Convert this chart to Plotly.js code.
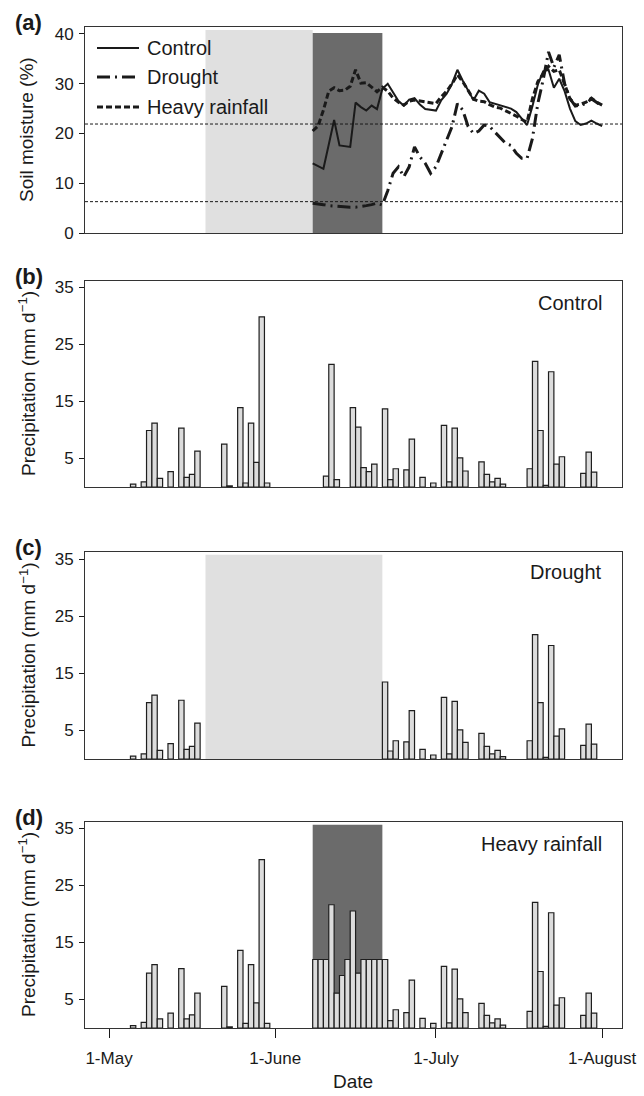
<!DOCTYPE html>
<html>
<head>
<meta charset="utf-8">
<script src="https://cdn.plot.ly/plotly-3.0.1.min.js"></script>
<style>html,body{margin:0;padding:0;background:#fff;}#chart{width:644px;height:1096px;}</style>
</head>
<body>
<div id="chart"></div>
<script>
// ---------------- DATA ----------------
// Soil moisture (%) daily, 8 June - 1 August
const smDates = ['2014-06-08','2014-06-09','2014-06-10','2014-06-11','2014-06-12','2014-06-13','2014-06-14','2014-06-15','2014-06-16','2014-06-17','2014-06-18','2014-06-19','2014-06-20','2014-06-21','2014-06-22','2014-06-23','2014-06-24','2014-06-25','2014-06-26','2014-06-27','2014-06-28','2014-06-29','2014-06-30',
 '2014-07-01','2014-07-02','2014-07-03','2014-07-04','2014-07-05','2014-07-06','2014-07-07','2014-07-08','2014-07-09','2014-07-10','2014-07-11','2014-07-12','2014-07-13','2014-07-14','2014-07-15','2014-07-16','2014-07-17','2014-07-18','2014-07-19','2014-07-20','2014-07-21','2014-07-22','2014-07-23','2014-07-24','2014-07-25','2014-07-26','2014-07-27','2014-07-28','2014-07-29','2014-07-30','2014-07-31','2014-08-01'];
const smControl = [14.0,13.5,12.9,17.8,22.7,17.6,17.4,17.3,26.2,25.3,24.6,25.6,24.9,29.0,30.0,28.1,26.5,25.6,26.8,27.1,25.8,24.9,24.8,24.6,26.7,28.0,30.0,32.8,30.6,28.6,26.7,28.6,28.0,26.3,26.0,25.6,25.3,25.0,24.3,23.0,21.7,25.5,29.8,32.5,32.8,29.2,31.0,28.5,25.0,22.5,21.7,22.0,22.6,22.0,21.5];
const smDrought = [6.0,5.9,5.7,5.5,5.4,5.3,5.2,5.2,5.2,5.3,5.5,5.7,6.0,5.6,8.5,12.0,13.3,11.3,13.3,17.3,15.3,14.0,12.0,13.3,16.0,18.4,21.4,26.0,24.7,21.4,20.0,20.5,21.7,21.4,20.3,19.3,18.0,17.6,16.0,15.0,15.0,19.0,26.0,30.8,36.4,33.3,35.8,30.0,27.0,25.5,25.7,26.0,27.0,26.2,25.5];
const smHeavy = [20.5,21.5,24.7,28.5,29.2,28.6,28.7,29.5,32.8,30.1,30.2,29.3,28.4,29.3,28.5,27.1,26.3,25.7,26.5,26.7,26.5,26.4,26.2,26.0,27.4,28.5,30.0,31.8,30.4,28.6,26.9,26.5,26.4,25.8,25.3,25.1,24.6,24.0,23.5,22.8,22.3,27.0,30.4,32.0,33.5,32.5,32.8,29.9,27.0,25.7,25.9,26.3,27.1,26.3,25.7];
const smLevels = [21.9, 6.3];           // horizontal reference lines (%)
const seriesNames = ['Control','Drought','Heavy rainfall'];

// Daily precipitation (mm d-1)
const pcControlDates = ['2014-05-05','2014-05-07','2014-05-08','2014-05-09','2014-05-10','2014-05-12','2014-05-14','2014-05-15','2014-05-16','2014-05-17','2014-05-22','2014-05-23','2014-05-25','2014-05-26','2014-05-27','2014-05-28','2014-05-29','2014-05-30',
 '2014-06-10','2014-06-11','2014-06-12','2014-06-15','2014-06-16','2014-06-17','2014-06-18','2014-06-19','2014-06-21','2014-06-22','2014-06-23','2014-06-25','2014-06-26','2014-06-28','2014-06-30',
 '2014-07-02','2014-07-03','2014-07-04','2014-07-05','2014-07-06','2014-07-09','2014-07-10','2014-07-11','2014-07-12','2014-07-13','2014-07-18','2014-07-19','2014-07-20','2014-07-21','2014-07-22','2014-07-23','2014-07-24','2014-07-28','2014-07-29','2014-07-30'];
const pcControl = [0.5,0.9,9.9,11.2,1.5,2.7,10.3,1.7,2.2,6.3,7.5,0.2,13.9,0.7,11.2,4.3,29.8,0.7,
 1.9,21.5,1.3,13.9,10.5,3.4,2.7,4.0,13.7,1.3,3.2,3.0,8.4,1.7,0.7,
 10.8,0.9,10.3,5.1,2.8,4.4,2.2,0.9,1.5,0.5,3.2,22.0,9.9,0.3,20.2,4.0,5.3,2.4,6.1,2.6];

const pcDroughtDates = ['2014-05-05','2014-05-07','2014-05-08','2014-05-09','2014-05-10','2014-05-12','2014-05-14','2014-05-15','2014-05-16','2014-05-17',
 '2014-06-21','2014-06-22','2014-06-23','2014-06-25','2014-06-26','2014-06-28','2014-06-30',
 '2014-07-02','2014-07-03','2014-07-04','2014-07-05','2014-07-06','2014-07-09','2014-07-10','2014-07-11','2014-07-12','2014-07-13','2014-07-18','2014-07-19','2014-07-20','2014-07-21','2014-07-22','2014-07-23','2014-07-24','2014-07-28','2014-07-29','2014-07-30'];
const pcDrought = [0.5,0.9,9.9,11.2,1.5,2.7,10.3,1.7,2.2,6.3,
 13.5,1.4,3.2,3.0,8.5,1.7,0.7,
 10.8,0.9,10.1,5.1,2.9,4.5,2.2,0.9,1.5,0.4,3.2,21.8,9.9,0.3,19.9,4.0,5.3,2.4,6.1,2.6];

const pcHeavyDates = ['2014-05-05','2014-05-07','2014-05-08','2014-05-09','2014-05-10','2014-05-12','2014-05-14','2014-05-15','2014-05-16','2014-05-17','2014-05-22','2014-05-23','2014-05-25','2014-05-26','2014-05-27','2014-05-28','2014-05-29','2014-05-30',
 '2014-06-08','2014-06-09','2014-06-10','2014-06-11','2014-06-12','2014-06-13','2014-06-14','2014-06-15','2014-06-16','2014-06-17','2014-06-18','2014-06-19','2014-06-20','2014-06-21',
 '2014-06-22','2014-06-23','2014-06-25','2014-06-26','2014-06-28','2014-06-30',
 '2014-07-02','2014-07-03','2014-07-04','2014-07-05','2014-07-06','2014-07-09','2014-07-10','2014-07-11','2014-07-12','2014-07-13','2014-07-18','2014-07-19','2014-07-20','2014-07-21','2014-07-22','2014-07-23','2014-07-24','2014-07-28','2014-07-29','2014-07-30'];
const pcHeavy = [0.4,1.0,9.6,11.1,1.6,2.6,10.4,1.6,2.3,6.1,7.3,0.2,13.6,0.8,11.1,4.4,29.5,0.8,
 12.0,12.0,12.0,21.6,6.1,9.2,12.0,20.5,9.6,12.0,12.0,12.0,12.0,12.0,
 1.3,3.2,2.7,8.4,1.7,0.8,
 10.8,0.9,10.3,5.1,2.7,4.3,2.2,0.9,1.6,0.5,2.9,22.0,9.9,0.3,20.2,4.0,5.3,2.2,6.1,2.6];

// Treatment periods
const droughtPeriod = ['2014-05-19','2014-06-21'];
const heavyPeriod = ['2014-06-08','2014-06-21'];

// Axis ticks
const dateTicks = ['2014-05-01','2014-06-01','2014-07-01','2014-08-01'];
const dateTickLabels = ['1-May','1-June','1-July','1-August'];
const smTicks = [0,10,20,30,40];
const pcTicks = [5,15,25,35];
const panelLetters = ['(a)','(b)','(c)','(d)'];
const panelNames = ['Control','Drought','Heavy rainfall'];

// ---------------- LAYOUT ----------------
const W = 644, H = 1096, ML = 85, MR = 22, MT = 27, MB = 68;
const PH = H - MT - MB, PW = W - ML - MR;
const py = px => 1 - (px - MT) / PH;      // pixel y -> paper y
const pxx = px => (px - ML) / PW;          // pixel x -> paper x
const dom = (top, bot) => [py(bot), py(top)];
const panels = [[27,233],[281,487],[552,759],[822,1028]];
const xRange = ['2014-04-26 12:30','2014-08-04 17:00'];
const FONT = 'Liberation Sans, Arial, Helvetica, sans-serif';
const INK = '#1a1a1a';
const DAY = 86400000;

const baseX = (anchor) => ({
  anchor: anchor, range: xRange, type: 'date', showgrid: false, zeroline: false,
  showline: true, mirror: true, linecolor: '#333', linewidth: 1,
  ticks: '', showticklabels: false, fixedrange: true
});
const baseY = (d, range, ticks) => ({
  domain: dom(d[0], d[1]), range: range, tickvals: ticks, ticks: 'outside', ticklen: 5,
  tickcolor: INK, showgrid: false, zeroline: false, showline: true, mirror: true,
  linecolor: '#333', linewidth: 1, tickfont: {size: 17, family: FONT, color: INK},
  ticklabelstandoff: 2, fixedrange: true
});

const layout = {
  width: W, height: H, margin: {l: ML, r: MR, t: MT, b: MB},
  paper_bgcolor: '#fff', plot_bgcolor: 'rgba(0,0,0,0)', showlegend: false,
  font: {family: FONT, color: INK},
  xaxis: baseX('y'), xaxis2: baseX('y2'), xaxis3: baseX('y3'),
  xaxis4: Object.assign(baseX('y4'), {
    ticks: 'outside', ticklen: 9, tickcolor: INK, showticklabels: true,
    tickvals: dateTicks, ticktext: dateTickLabels, ticklabelstandoff: 6,
    tickfont: {size: 17, family: FONT, color: INK}
  }),
  yaxis: baseY(panels[0], [0, 41.4], smTicks),
  yaxis2: baseY(panels[1], [0, 36.1], pcTicks),
  yaxis3: baseY(panels[2], [0, 36.3], pcTicks),
  yaxis4: baseY(panels[3], [0, 36.1], pcTicks),
  shapes: [], annotations: []
};

// shaded treatment periods
const L_GRAY = '#e0e0e0', D_GRAY = '#6b6b6b';
layout.shapes.push({type:'rect', xref:'x', yref:'y', x0:droughtPeriod[0], x1:heavyPeriod[0], y0:0, y1:40.8, fillcolor:L_GRAY, line:{width:0}, layer:'below'});
layout.shapes.push({type:'rect', xref:'x', yref:'y', x0:heavyPeriod[0], x1:heavyPeriod[1], y0:0, y1:40.2, fillcolor:D_GRAY, line:{width:0}, layer:'below'});
layout.shapes.push({type:'rect', xref:'x3', yref:'y3', x0:droughtPeriod[0], x1:droughtPeriod[1], y0:0, y1:35.8, fillcolor:L_GRAY, line:{width:0}, layer:'below'});
layout.shapes.push({type:'rect', xref:'x4', yref:'y4', x0:heavyPeriod[0], x1:heavyPeriod[1], y0:0, y1:35.6, fillcolor:D_GRAY, line:{width:0}, layer:'below'});
// reference levels
smLevels.forEach(v => layout.shapes.push({type:'line', xref:'x domain', yref:'y', x0:0, x1:1, y0:v, y1:v, line:{color:INK, width:1, dash:'3px,2px'}, layer:'above'}));

// line styles
const styles = [
  {color: INK, width: 2, dash: 'solid'},
  {color: INK, width: 3, dash: '13px,5px,2px,5px'},
  {color: INK, width: 3, dash: '6px,3px'}
];
// manual legend
const legRows = [48, 77, 107];
seriesNames.forEach((n, i) => {
  layout.shapes.push({type:'line', xref:'paper', yref:'paper', x0:pxx(97), x1:pxx(139), y0:py(legRows[i]), y1:py(legRows[i]), line:styles[i]});
  layout.annotations.push({xref:'paper', yref:'paper', x:pxx(145), y:py(legRows[i]), xanchor:'left', yanchor:'middle', showarrow:false, text:n, font:{size:20, family:FONT, color:INK}});
});

// panel letters
panels.forEach((p, i) => layout.annotations.push({xref:'paper', yref:'paper', x:pxx(13), y:py(p[0] - 5), xanchor:'left', yanchor:'middle', showarrow:false, text:'<b>' + panelLetters[i] + '</b>', font:{size:22, family:FONT, color:INK}}));
// panel names
const nameY = [303, 572, 844];
panelNames.forEach((n, i) => layout.annotations.push({xref:'paper', yref:'paper', x:pxx(604), y:py(nameY[i]), xanchor:'right', yanchor:'middle', showarrow:false, text:n, font:{size:20, family:FONT, color:INK}}));
// axis titles
const titleX = pxx(27);
layout.annotations.push({xref:'paper', yref:'paper', x:titleX, y:py((panels[0][0]+panels[0][1])/2), textangle:-90, xanchor:'center', yanchor:'middle', showarrow:false, text:'Soil moisture (%)', font:{size:19, family:FONT, color:INK}});
for (let i = 1; i < 4; i++) {
  layout.annotations.push({xref:'paper', yref:'paper', x:titleX, y:py((panels[i][0]+panels[i][1])/2), textangle:-90, xanchor:'center', yanchor:'middle', showarrow:false, text:'Precipitation (mm d<sup>−1</sup>)', font:{size:19, family:FONT, color:INK}});
}
layout.annotations.push({xref:'paper', yref:'paper', x:pxx(353), y:py(1081), xanchor:'center', yanchor:'middle', showarrow:false, text:'Date', font:{size:19, family:FONT, color:INK}});

// ---------------- TRACES ----------------
const traces = [];
[smControl, smDrought, smHeavy].forEach((vals, i) => traces.push({
  type:'scatter', mode:'lines', x: smDates, y: vals, xaxis:'x', yaxis:'y',
  line: Object.assign({shape:'linear'}, styles[i]), hoverinfo:'skip', name: seriesNames[i]
}));
const bar = (dates, vals, ax) => ({
  type:'bar', x: dates.map(d => d + ' 12:00'), y: vals, width: dates.map(() => DAY),
  xaxis: 'x' + ax, yaxis: 'y' + ax,
  marker: {color:'#dcdcdc', line:{color:'#1e1e1e', width:1.2}}, hoverinfo:'skip'
});
traces.push(bar(pcControlDates, pcControl, 2));
traces.push(bar(pcDroughtDates, pcDrought, 3));
traces.push(bar(pcHeavyDates, pcHeavy, 4));

Plotly.newPlot('chart', traces, layout, {staticPlot: true, displayModeBar: false});
</script>
</body>
</html>
